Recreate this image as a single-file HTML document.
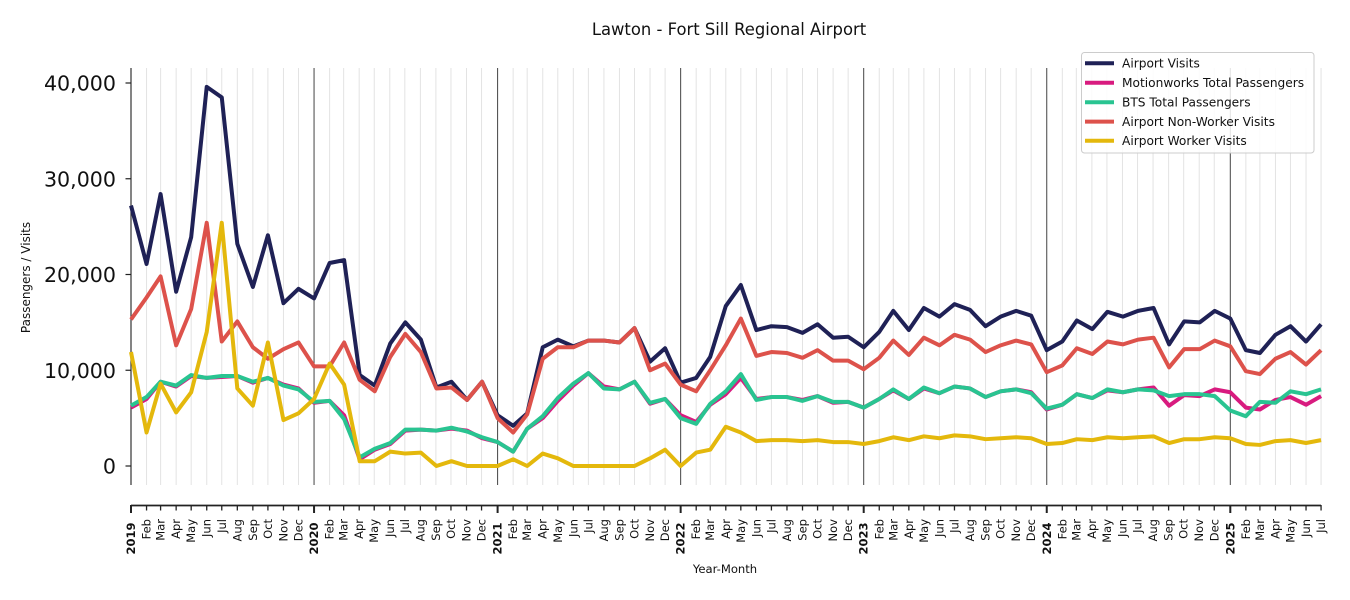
<!DOCTYPE html>
<html>
<head>
<meta charset="utf-8">
<style>
  html,body{margin:0;padding:0;background:#fff;}
  svg{display:block;font-family:"DejaVu Sans","Liberation Sans",sans-serif;}
  .ml text{font-size:11.5px;fill:#111;text-anchor:end;}
  .ml text.yr{font-weight:bold;}
  .yt{font-size:20.6px;fill:#111;text-anchor:end;}
  .lg{font-size:12.2px;fill:#111;}
  .s{fill:none;stroke-width:4;stroke-linejoin:round;vector-effect:non-scaling-stroke;}
</style>
</head>
<body>
<svg width="1350" height="600" viewBox="0 0 1350 600" xmlns="http://www.w3.org/2000/svg">
<defs>
  <g id="mg" stroke="#e3e3e3" stroke-width="1">
    <line x1="15.55" y1="68" x2="15.55" y2="485"/><line x1="29.59" y1="68" x2="29.59" y2="485"/>
    <line x1="45.14" y1="68" x2="45.14" y2="485"/><line x1="60.18" y1="68" x2="60.18" y2="485"/>
    <line x1="75.73" y1="68" x2="75.73" y2="485"/><line x1="90.77" y1="68" x2="90.77" y2="485"/>
    <line x1="106.32" y1="68" x2="106.32" y2="485"/><line x1="121.86" y1="68" x2="121.86" y2="485"/>
    <line x1="136.91" y1="68" x2="136.91" y2="485"/><line x1="152.46" y1="68" x2="152.46" y2="485"/>
    <line x1="167.5" y1="68" x2="167.5" y2="485"/>
  </g>
  <g id="mg5" stroke="#e3e3e3" stroke-width="1">
    <line x1="15.55" y1="68" x2="15.55" y2="485"/><line x1="29.59" y1="68" x2="29.59" y2="485"/>
    <line x1="45.14" y1="68" x2="45.14" y2="485"/><line x1="60.18" y1="68" x2="60.18" y2="485"/>
    <line x1="75.73" y1="68" x2="75.73" y2="485"/><line x1="90.77" y1="68" x2="90.77" y2="485"/>
  </g>
  <g id="mt" stroke="#222" stroke-width="1.3">
    <line x1="15.55" y1="505" x2="15.55" y2="510.5"/><line x1="29.59" y1="505" x2="29.59" y2="510.5"/>
    <line x1="45.14" y1="505" x2="45.14" y2="510.5"/><line x1="60.18" y1="505" x2="60.18" y2="510.5"/>
    <line x1="75.73" y1="505" x2="75.73" y2="510.5"/><line x1="90.77" y1="505" x2="90.77" y2="510.5"/>
    <line x1="106.32" y1="505" x2="106.32" y2="510.5"/><line x1="121.86" y1="505" x2="121.86" y2="510.5"/>
    <line x1="136.91" y1="505" x2="136.91" y2="510.5"/><line x1="152.46" y1="505" x2="152.46" y2="510.5"/>
    <line x1="167.5" y1="505" x2="167.5" y2="510.5"/>
    <line x1="0" y1="505" x2="0" y2="513" stroke-width="2"/>
  </g>
  <g id="mt5" stroke="#222" stroke-width="1.3">
    <line x1="15.55" y1="505" x2="15.55" y2="510.5"/><line x1="29.59" y1="505" x2="29.59" y2="510.5"/>
    <line x1="45.14" y1="505" x2="45.14" y2="510.5"/><line x1="60.18" y1="505" x2="60.18" y2="510.5"/>
    <line x1="75.73" y1="505" x2="75.73" y2="510.5"/><line x1="90.77" y1="505" x2="90.77" y2="510.5"/>
    <line x1="0" y1="505" x2="0" y2="513" stroke-width="2"/>
  </g>
</defs>

<!-- title -->
<text x="729" y="35" font-size="16.4" text-anchor="middle" fill="#111">Lawton - Fort Sill Regional Airport</text>

<!-- minor gridlines -->
<use href="#mg" transform="translate(131,0)"/>
<use href="#mg" transform="translate(314.05,0)"/>
<use href="#mg" transform="translate(497.6,0)"/>
<use href="#mg" transform="translate(680.65,0)"/>
<use href="#mg" transform="translate(863.7,0)"/>
<use href="#mg" transform="translate(1046.75,0)"/>
<use href="#mg5" transform="translate(1230.3,0)"/>

<!-- year lines -->
<g stroke="#444" stroke-width="1">
  <line x1="314.05" y1="68" x2="314.05" y2="485"/>
  <line x1="497.6" y1="68" x2="497.6" y2="485"/>
  <line x1="680.65" y1="68" x2="680.65" y2="485"/>
  <line x1="863.7" y1="68" x2="863.7" y2="485"/>
  <line x1="1046.75" y1="68" x2="1046.75" y2="485"/>
  <line x1="1230.3" y1="68" x2="1230.3" y2="485"/>
</g>

<!-- y axis -->
<line x1="131" y1="68" x2="131" y2="485" stroke="#333" stroke-width="1.2"/>
<g stroke="#222" stroke-width="1.2">
  <line x1="125.5" y1="466" x2="131" y2="466"/>
  <line x1="125.5" y1="370.25" x2="131" y2="370.25"/>
  <line x1="125.5" y1="274.5" x2="131" y2="274.5"/>
  <line x1="125.5" y1="178.75" x2="131" y2="178.75"/>
  <line x1="125.5" y1="83" x2="131" y2="83"/>
</g>
<text class="yt" x="116" y="473.5">0</text>
<text class="yt" x="116" y="377.75">10,000</text>
<text class="yt" x="116" y="282">20,000</text>
<text class="yt" x="116" y="186.25">30,000</text>
<text class="yt" x="116" y="90.5">40,000</text>
<text transform="translate(30,277.5) rotate(-90)" font-size="12" text-anchor="middle" fill="#111">Passengers / Visits</text>

<!-- x axis -->
<line x1="131" y1="505.5" x2="1321" y2="505.5" stroke="#222" stroke-width="1.8"/>
<use href="#mt" transform="translate(131,0)"/>
<use href="#mt" transform="translate(314.05,0)"/>
<use href="#mt" transform="translate(497.6,0)"/>
<use href="#mt" transform="translate(680.65,0)"/>
<use href="#mt" transform="translate(863.7,0)"/>
<use href="#mt" transform="translate(1046.75,0)"/>
<use href="#mt5" transform="translate(1230.3,0)"/>

<g class="ml" transform="translate(131,0)">
  <text class="yr" transform="translate(0,522.5) rotate(-90)" y="4">2019</text>
  <text transform="translate(15.55,519) rotate(-90)" y="4">Feb</text>
  <text transform="translate(29.59,519) rotate(-90)" y="4">Mar</text>
  <text transform="translate(45.14,519) rotate(-90)" y="4">Apr</text>
  <text transform="translate(60.18,519) rotate(-90)" y="4">May</text>
  <text transform="translate(75.73,519) rotate(-90)" y="4">Jun</text>
  <text transform="translate(90.77,519) rotate(-90)" y="4">Jul</text>
  <text transform="translate(106.32,519) rotate(-90)" y="4">Aug</text>
  <text transform="translate(121.86,519) rotate(-90)" y="4">Sep</text>
  <text transform="translate(136.91,519) rotate(-90)" y="4">Oct</text>
  <text transform="translate(152.46,519) rotate(-90)" y="4">Nov</text>
  <text transform="translate(167.5,519) rotate(-90)" y="4">Dec</text>
</g>
<g class="ml" transform="translate(314.05,0)">
  <text class="yr" transform="translate(0,522.5) rotate(-90)" y="4">2020</text>
  <text transform="translate(15.55,519) rotate(-90)" y="4">Feb</text>
  <text transform="translate(29.59,519) rotate(-90)" y="4">Mar</text>
  <text transform="translate(45.14,519) rotate(-90)" y="4">Apr</text>
  <text transform="translate(60.18,519) rotate(-90)" y="4">May</text>
  <text transform="translate(75.73,519) rotate(-90)" y="4">Jun</text>
  <text transform="translate(90.77,519) rotate(-90)" y="4">Jul</text>
  <text transform="translate(106.32,519) rotate(-90)" y="4">Aug</text>
  <text transform="translate(121.86,519) rotate(-90)" y="4">Sep</text>
  <text transform="translate(136.91,519) rotate(-90)" y="4">Oct</text>
  <text transform="translate(152.46,519) rotate(-90)" y="4">Nov</text>
  <text transform="translate(167.5,519) rotate(-90)" y="4">Dec</text>
</g>
<g class="ml" transform="translate(497.6,0)">
  <text class="yr" transform="translate(0,522.5) rotate(-90)" y="4">2021</text>
  <text transform="translate(15.55,519) rotate(-90)" y="4">Feb</text>
  <text transform="translate(29.59,519) rotate(-90)" y="4">Mar</text>
  <text transform="translate(45.14,519) rotate(-90)" y="4">Apr</text>
  <text transform="translate(60.18,519) rotate(-90)" y="4">May</text>
  <text transform="translate(75.73,519) rotate(-90)" y="4">Jun</text>
  <text transform="translate(90.77,519) rotate(-90)" y="4">Jul</text>
  <text transform="translate(106.32,519) rotate(-90)" y="4">Aug</text>
  <text transform="translate(121.86,519) rotate(-90)" y="4">Sep</text>
  <text transform="translate(136.91,519) rotate(-90)" y="4">Oct</text>
  <text transform="translate(152.46,519) rotate(-90)" y="4">Nov</text>
  <text transform="translate(167.5,519) rotate(-90)" y="4">Dec</text>
</g>
<g class="ml" transform="translate(680.65,0)">
  <text class="yr" transform="translate(0,522.5) rotate(-90)" y="4">2022</text>
  <text transform="translate(15.55,519) rotate(-90)" y="4">Feb</text>
  <text transform="translate(29.59,519) rotate(-90)" y="4">Mar</text>
  <text transform="translate(45.14,519) rotate(-90)" y="4">Apr</text>
  <text transform="translate(60.18,519) rotate(-90)" y="4">May</text>
  <text transform="translate(75.73,519) rotate(-90)" y="4">Jun</text>
  <text transform="translate(90.77,519) rotate(-90)" y="4">Jul</text>
  <text transform="translate(106.32,519) rotate(-90)" y="4">Aug</text>
  <text transform="translate(121.86,519) rotate(-90)" y="4">Sep</text>
  <text transform="translate(136.91,519) rotate(-90)" y="4">Oct</text>
  <text transform="translate(152.46,519) rotate(-90)" y="4">Nov</text>
  <text transform="translate(167.5,519) rotate(-90)" y="4">Dec</text>
</g>
<g class="ml" transform="translate(863.7,0)">
  <text class="yr" transform="translate(0,522.5) rotate(-90)" y="4">2023</text>
  <text transform="translate(15.55,519) rotate(-90)" y="4">Feb</text>
  <text transform="translate(29.59,519) rotate(-90)" y="4">Mar</text>
  <text transform="translate(45.14,519) rotate(-90)" y="4">Apr</text>
  <text transform="translate(60.18,519) rotate(-90)" y="4">May</text>
  <text transform="translate(75.73,519) rotate(-90)" y="4">Jun</text>
  <text transform="translate(90.77,519) rotate(-90)" y="4">Jul</text>
  <text transform="translate(106.32,519) rotate(-90)" y="4">Aug</text>
  <text transform="translate(121.86,519) rotate(-90)" y="4">Sep</text>
  <text transform="translate(136.91,519) rotate(-90)" y="4">Oct</text>
  <text transform="translate(152.46,519) rotate(-90)" y="4">Nov</text>
  <text transform="translate(167.5,519) rotate(-90)" y="4">Dec</text>
</g>
<g class="ml" transform="translate(1046.75,0)">
  <text class="yr" transform="translate(0,522.5) rotate(-90)" y="4">2024</text>
  <text transform="translate(15.55,519) rotate(-90)" y="4">Feb</text>
  <text transform="translate(29.59,519) rotate(-90)" y="4">Mar</text>
  <text transform="translate(45.14,519) rotate(-90)" y="4">Apr</text>
  <text transform="translate(60.18,519) rotate(-90)" y="4">May</text>
  <text transform="translate(75.73,519) rotate(-90)" y="4">Jun</text>
  <text transform="translate(90.77,519) rotate(-90)" y="4">Jul</text>
  <text transform="translate(106.32,519) rotate(-90)" y="4">Aug</text>
  <text transform="translate(121.86,519) rotate(-90)" y="4">Sep</text>
  <text transform="translate(136.91,519) rotate(-90)" y="4">Oct</text>
  <text transform="translate(152.46,519) rotate(-90)" y="4">Nov</text>
  <text transform="translate(167.5,519) rotate(-90)" y="4">Dec</text>
</g>
<g class="ml" transform="translate(1230.3,0)">
  <text class="yr" transform="translate(0,522.5) rotate(-90)" y="4">2025</text>
  <text transform="translate(15.55,519) rotate(-90)" y="4">Feb</text>
  <text transform="translate(29.59,519) rotate(-90)" y="4">Mar</text>
  <text transform="translate(45.14,519) rotate(-90)" y="4">Apr</text>
  <text transform="translate(60.18,519) rotate(-90)" y="4">May</text>
  <text transform="translate(75.73,519) rotate(-90)" y="4">Jun</text>
  <text transform="translate(90.77,519) rotate(-90)" y="4">Jul</text>
</g>
<text x="725" y="573" font-size="11.6" text-anchor="middle" fill="#111">Year-Month</text>

<!-- series -->
<g transform="matrix(0.5015 0 0 -0.009575 131 466)">
  <polyline class="s" stroke="#1f2156" points="0,27200 31,21100 59,28400 90,18200 120,23900 151,39600 181,38500 212,23200 243,18700 273,24100 304,17000 334,18500 365,17500 396,21200 425,21500 456,9500 486,8400 517,12800 547,15000 578,13200 609,8200 639,8800 670,6900 700,8800 731,5300 762,4200 790,5500 821,12400 851,13200 882,12500 912,13100 943,13100 974,12900 1004,14400 1035,10900 1065,12300 1096,8700 1127,9200 1155,11400 1186,16700 1216,18900 1247,14200 1277,14600 1308,14500 1339,13900 1369,14800 1400,13400 1430,13500 1461,12400 1492,14000 1520,16200 1551,14200 1581,16500 1612,15600 1642,16900 1673,16300 1704,14600 1734,15600 1765,16200 1795,15700 1826,12100 1857,13000 1886,15200 1917,14300 1947,16100 1978,15600 2008,16200 2039,16500 2070,12700 2100,15100 2131,15000 2161,16200 2192,15400 2223,12100 2251,11800 2282,13700 2312,14600 2343,13000 2373,14800"/>
  <polyline class="s" stroke="#d81b7f" points="0,6100 31,7000 59,8800 90,8300 120,9400 151,9200 181,9300 212,9400 243,8700 273,9200 304,8500 334,8100 365,6600 396,6800 425,5300 456,700 486,1700 517,2300 547,3700 578,3800 609,3700 639,3900 670,3700 700,2900 731,2500 762,1500 790,3900 821,5000 851,6800 882,8400 912,9700 943,8300 974,8000 1004,8800 1035,6500 1065,7000 1096,5300 1127,4600 1155,6400 1186,7500 1216,9200 1247,7000 1277,7200 1308,7200 1339,6900 1369,7300 1400,6600 1430,6700 1461,6100 1492,7000 1520,7900 1551,7000 1581,8100 1612,7600 1642,8300 1673,8100 1704,7200 1734,7800 1765,8000 1795,7700 1826,5900 1857,6400 1886,7500 1917,7100 1947,7900 1978,7700 2008,8000 2039,8200 2070,6300 2100,7400 2131,7300 2161,8000 2192,7700 2223,6100 2251,5900 2282,6900 2312,7200 2343,6400 2373,7300"/>
  <polyline class="s" stroke="#29c491" points="0,6300 31,7200 59,8800 90,8400 120,9500 151,9200 181,9400 212,9400 243,8800 273,9200 304,8400 334,8000 365,6700 396,6800 425,4900 456,900 486,1800 517,2400 547,3800 578,3800 609,3700 639,4000 670,3600 700,3000 731,2500 762,1500 790,3900 821,5200 851,7100 882,8600 912,9700 943,8100 974,8000 1004,8800 1035,6600 1065,7000 1096,5000 1127,4400 1155,6500 1186,7800 1216,9600 1247,6900 1277,7200 1308,7200 1339,6800 1369,7300 1400,6700 1430,6700 1461,6100 1492,7000 1520,8000 1551,7000 1581,8200 1612,7600 1642,8300 1673,8100 1704,7200 1734,7800 1765,8000 1795,7600 1826,6000 1857,6400 1886,7500 1917,7100 1947,8000 1978,7700 2008,8000 2039,7900 2070,7300 2100,7500 2131,7500 2161,7300 2192,5800 2223,5200 2251,6700 2282,6600 2312,7800 2343,7500 2373,8000"/>
  <polyline class="s" stroke="#dd524b" points="0,15300 31,17600 59,19800 90,12600 120,16400 151,25400 181,13000 212,15100 243,12400 273,11200 304,12200 334,12900 365,10400 396,10400 425,12900 456,9000 486,7800 517,11400 547,13800 578,11900 609,8100 639,8200 670,6900 700,8800 731,5000 762,3500 790,5400 821,11200 851,12400 882,12400 912,13100 943,13100 974,12900 1004,14400 1035,10000 1065,10700 1096,8500 1127,7800 1155,10000 1186,12600 1216,15400 1247,11500 1277,11900 1308,11800 1339,11300 1369,12100 1400,11000 1430,11000 1461,10100 1492,11300 1520,13100 1551,11600 1581,13400 1612,12600 1642,13700 1673,13200 1704,11900 1734,12600 1765,13100 1795,12700 1826,9800 1857,10500 1886,12300 1917,11700 1947,13000 1978,12700 2008,13200 2039,13400 2070,10300 2100,12200 2131,12200 2161,13100 2192,12500 2223,9900 2251,9600 2282,11200 2312,11900 2343,10600 2373,12100"/>
  <polyline class="s" stroke="#e4b80c" points="0,11900 31,3500 59,8600 90,5600 120,7700 151,14000 181,25400 212,8100 243,6300 273,12900 304,4800 334,5500 365,7000 396,10700 425,8500 456,500 486,500 517,1500 547,1300 578,1400 609,0 639,500 670,0 700,0 731,0 762,700 790,0 821,1300 851,800 882,0 912,0 943,0 974,0 1004,0 1035,800 1065,1700 1096,0 1127,1400 1155,1700 1186,4100 1216,3500 1247,2600 1277,2700 1308,2700 1339,2600 1369,2700 1400,2500 1430,2500 1461,2300 1492,2600 1520,3000 1551,2700 1581,3100 1612,2900 1642,3200 1673,3100 1704,2800 1734,2900 1765,3000 1795,2900 1826,2300 1857,2400 1886,2800 1917,2700 1947,3000 1978,2900 2008,3000 2039,3100 2070,2400 2100,2800 2131,2800 2161,3000 2192,2900 2223,2300 2251,2200 2282,2600 2312,2700 2343,2400 2373,2700"/>
</g>

<!-- legend -->
<rect x="1081.5" y="52.5" width="232.5" height="100.5" rx="3" ry="3" fill="#fff" fill-opacity="0.85" stroke="#cccccc" stroke-width="1"/>
<g stroke-width="4">
  <line x1="1085" y1="63.3" x2="1114" y2="63.3" stroke="#1f2156"/>
  <line x1="1085" y1="82.7" x2="1114" y2="82.7" stroke="#d81b7f"/>
  <line x1="1085" y1="102.2" x2="1114" y2="102.2" stroke="#29c491"/>
  <line x1="1085" y1="121.6" x2="1114" y2="121.6" stroke="#dd524b"/>
  <line x1="1085" y1="140.8" x2="1114" y2="140.8" stroke="#e4b80c"/>
</g>
<text class="lg" x="1122" y="67.7">Airport Visits</text>
<text class="lg" x="1122" y="87.1">Motionworks Total Passengers</text>
<text class="lg" x="1122" y="106.6">BTS Total Passengers</text>
<text class="lg" x="1122" y="126">Airport Non-Worker Visits</text>
<text class="lg" x="1122" y="145.2">Airport Worker Visits</text>
</svg>
</body>
</html>
